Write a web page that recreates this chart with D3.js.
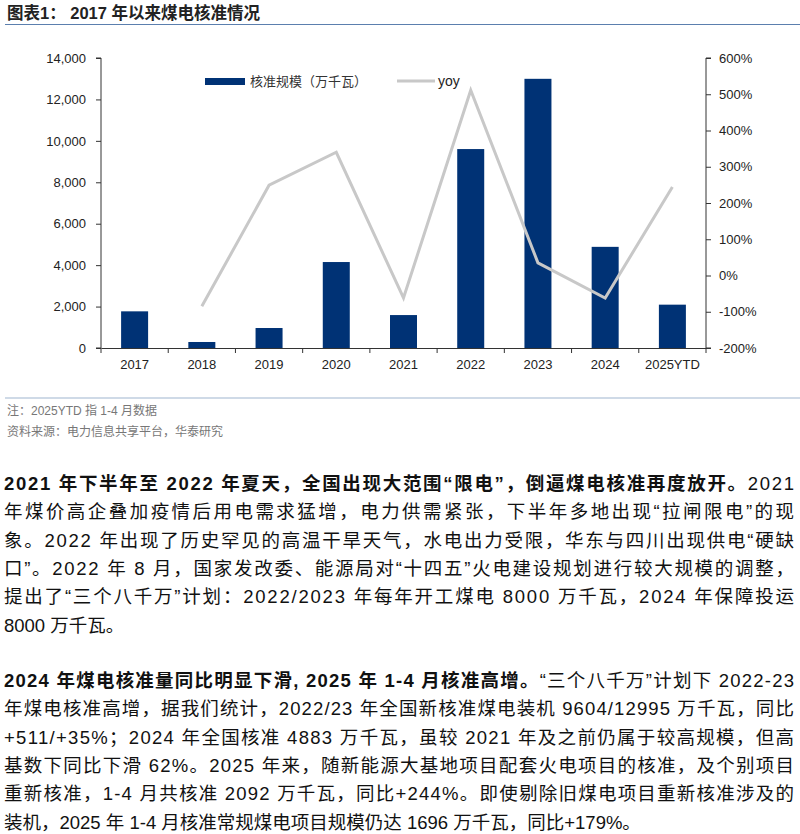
<!DOCTYPE html>
<html><head><meta charset="utf-8">
<script src="https://cdn.jsdelivr.net/npm/d3@7"></script>
<style>body{margin:0;background:#fff}</style>
</head><body><svg id="svg" width="800" height="834"></svg>
<script>
// DATA
const years = ["2017","2018","2019","2020","2021","2022","2023","2024","2025YTD"];
const capacity = [1770, 290, 965, 4150, 1590, 9604, 12995, 4883, 2092];
const yoy = [null, -85, 249, 340, -62, 511, 35, -62, 244];
const leftTicks = [0, 2000, 4000, 6000, 8000, 10000, 12000, 14000];
const rightTicks = [-200, -100, 0, 100, 200, 300, 400, 500, 600];

const para1 = [
  [["2021 年下半年至 2022 年夏天，全国出现大范围“限电”，倒逼煤电核准再度放开。", true], ["2021", false]],
  [["年煤价高企叠加疫情后用电需求猛增，电力供需紧张，下半年多地出现“拉闸限电”的现", false]],
  [["象。2022 年出现了历史罕见的高温干旱天气，水电出力受限，华东与四川出现供电“硬缺", false]],
  [["口”。2022 年 8 月，国家发改委、能源局对“十四五”火电建设规划进行较大规模的调整，", false]],
  [["提出了“三个八千万”计划：2022/2023 年每年开工煤电 8000 万千瓦，2024 年保障投运", false]],
  [["8000 万千瓦。", false]]
];
const para2 = [
  [["2024 年煤电核准量同比明显下滑, 2025 年 1-4 月核准高增。", true], ["“三个八千万”计划下 2022-23", false]],
  [["年煤电核准高增，据我们统计，2022/23 年全国新核准煤电装机 9604/12995 万千瓦，同比", false]],
  [["+511/+35%；2024 年全国核准 4883 万千瓦，虽较 2021 年及之前仍属于较高规模，但高", false]],
  [["基数下同比下滑 62%。2025 年来，随新能源大基地项目配套火电项目的核准，及个别项目", false]],
  [["重新核准，1-4 月共核准 2092 万千瓦，同比+244%。即使剔除旧煤电项目重新核准涉及的", false]],
  [["装机，2025 年 1-4 月核准常规煤电项目规模仍达 1696 万千瓦，同比+179%。", false]]
];

const svg = d3.select("#svg");
const cjk = "Liberation Sans, Arial, 'Noto Sans CJK SC', sans-serif";
const margin = { left: 101, right: 706, top: 58, bottom: 348 };

// title
svg.append("text").attr("x", 7).attr("y", 19)
  .style("font", `bold 16.5px ${cjk}`).attr("fill", "#222")
  .text("图表1：  2017 年以来煤电核准情况");
svg.append("line").attr("x1", 5).attr("x2", 800).attr("y1", 24.5).attr("y2", 24.5)
  .attr("stroke", "#5b7fae").attr("stroke-width", 1.2);

const xb = d3.scaleBand().domain(years).range([margin.left, margin.right]);
const y = d3.scaleLinear().domain([0, 14000]).range([margin.bottom, margin.top]);
const y2 = d3.scaleLinear().domain([-200, 600]).range([margin.bottom, margin.top]);

svg.append("g").selectAll("rect").data(years).join("rect")
  .attr("x", d => xb(d) + xb.bandwidth() / 2 - 13.5)
  .attr("width", 27)
  .attr("y", (d, i) => y(capacity[i]))
  .attr("height", (d, i) => y(0) - y(capacity[i]))
  .attr("fill", "#003275");

const line = d3.line()
  .defined(d => d[1] != null)
  .x(d => xb(d[0]) + xb.bandwidth() / 2)
  .y(d => y2(d[1]));
svg.append("path").datum(years.map((d, i) => [d, yoy[i]]))
  .attr("d", line).attr("fill", "none").attr("stroke", "#c8c8c8").attr("stroke-width", 3);

// axes
const tickFont = g => g.selectAll("text").style("font", "13px Liberation Sans, Arial, sans-serif").attr("fill", "#222");
svg.append("g").attr("transform", `translate(${margin.left},0)`)
  .call(d3.axisLeft(y).tickValues(leftTicks).tickFormat(d3.format(",")).tickSize(5).tickPadding(10))
  .call(g => g.selectAll("path,line").attr("stroke", "#333"))
  .call(g => g.select(".domain").attr("d", `M-5,${margin.top}H0V${margin.bottom}H-5`))
  .call(tickFont);
svg.append("g").attr("transform", `translate(${margin.right},0)`)
  .call(d3.axisRight(y2).tickValues(rightTicks).tickFormat(d => d + "%").tickSize(5).tickPadding(8))
  .call(g => g.selectAll("path,line").attr("stroke", "#333"))
  .call(g => g.select(".domain").attr("d", `M5,${margin.top}H0V${margin.bottom}H5`))
  .call(tickFont);
const xa = svg.append("g").attr("transform", `translate(0,${margin.bottom})`)
  .call(d3.axisBottom(xb).tickSize(0).tickPadding(12))
  .call(tickFont);
xa.select(".domain").attr("stroke", "#333");
xa.selectAll(".sep").data(years.concat(["end"])).join("line")
  .attr("x1", (d, i) => margin.left + i * xb.bandwidth())
  .attr("x2", (d, i) => margin.left + i * xb.bandwidth())
  .attr("y1", 0).attr("y2", 5).attr("stroke", "#333");

// legend
svg.append("rect").attr("x", 205).attr("y", 78).attr("width", 40).attr("height", 7).attr("fill", "#003275");
svg.append("text").attr("x", 250).attr("y", 86).style("font", `13px ${cjk}`).attr("fill", "#333").text("核准规模（万千瓦）");
svg.append("line").attr("x1", 397).attr("x2", 435).attr("y1", 81).attr("y2", 81).attr("stroke", "#c8c8c8").attr("stroke-width", 3);
svg.append("text").attr("x", 438).attr("y", 86).style("font", `14px ${cjk}`).attr("fill", "#222").text("yoy");

// notes
svg.append("line").attr("x1", 5).attr("x2", 800).attr("y1", 398).attr("y2", 398)
  .attr("stroke", "#9fb5d0").attr("stroke-width", 1.2);
svg.append("text").attr("x", 7).attr("y", 415).style("font", `12px ${cjk}`).attr("fill", "#777").text("注：2025YTD 指 1-4 月数据");
svg.append("text").attr("x", 7).attr("y", 436).style("font", `12px ${cjk}`).attr("fill", "#777").text("资料来源：电力信息共享平台，华泰研究");

// body paragraphs
function drawPara(lines, y0) {
  lines.forEach((parts, i) => {
    const t = svg.append("text").attr("x", 4).attr("y", y0 + i * 28.3)
      .style("font", `18.5px ${cjk}`).attr("fill", "#111");
    if (i < lines.length - 1) t.attr("textLength", 790).attr("lengthAdjust", "spacing");
    parts.forEach(([s, b]) => t.append("tspan").attr("font-weight", b ? "bold" : "normal").text(s));
  });
}
drawPara(para1, 490);
drawPara(para2, 687);
</script></body></html>
